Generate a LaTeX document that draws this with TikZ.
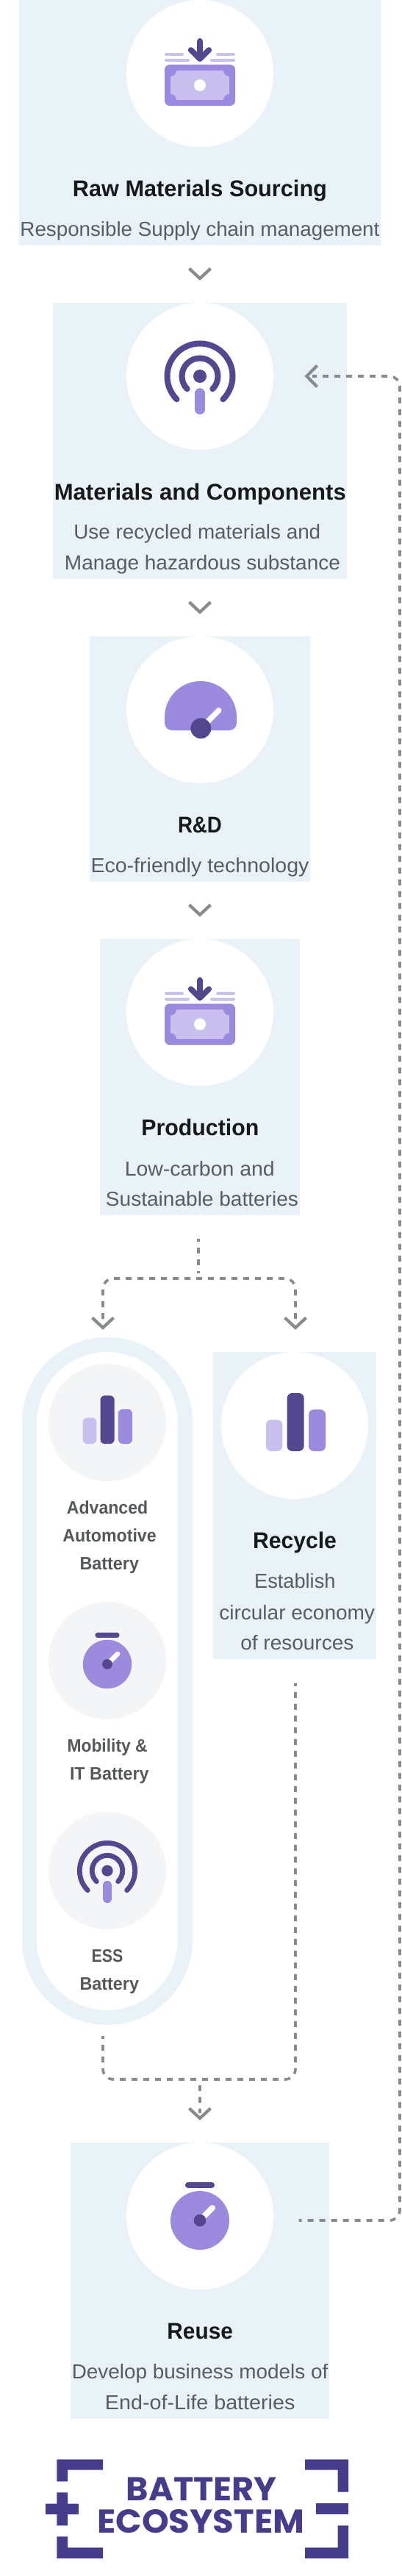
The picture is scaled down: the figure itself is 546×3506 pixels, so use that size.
\documentclass[tikz,border=0pt]{standalone}
\usepackage{fontspec}
\setmainfont{Liberation Sans}
\newfontfamily\logofont{Poppins}
\definecolor{panelc}{HTML}{E9F2F7}
\definecolor{discg}{HTML}{F3F5F6}
\definecolor{vdark}{HTML}{54468F}
\definecolor{vmid}{HTML}{9B8ADD}
\definecolor{vlight}{HTML}{C9C0EE}
\definecolor{linec}{HTML}{888B8D}
\definecolor{titlec}{HTML}{17191B}
\definecolor{descc}{HTML}{5A5D60}
\definecolor{capc}{HTML}{55585A}
\definecolor{logoc}{HTML}{463C8C}
\newcommand{\fw}[2]{\resizebox{#1pt}{\height}{#2}}
\tikzset{
  panel/.style={fill=panelc,inner sep=0pt,outer sep=0pt,rectangle},
  disc/.style={fill=white,circle,inner sep=0pt,outer sep=0pt,minimum size=200pt},
  gdisc/.style={fill=discg,circle,inner sep=0pt,outer sep=0pt,minimum size=160pt},
  ttl/.style={anchor=base,inner sep=0pt,text=titlec,font=\fontsize{31}{36}\selectfont\bfseries},
  dsc/.style={anchor=base,inner sep=0pt,text=descc,font=\fontsize{27.5}{32}\selectfont},
  cpt/.style={anchor=base,inner sep=0pt,text=capc,font=\fontsize{24.5}{28}\selectfont\bfseries},
  lgt/.style={anchor=base,inner sep=0pt,text=logoc,font=\fontsize{45}{50}\selectfont\logofont\bfseries},
  chev/.style={draw=linec,line width=4.2pt,miter limit=10},
  dashline/.style={draw=linec,line width=3.6pt,dash pattern=on 8pt off 8pt,rounded corners=14pt},
}
\newcommand{\chevdown}[2]{\draw[chev] (#1-14.5,-#2+13.5) -- (#1,-#2) -- (#1+14.5,-#2+13.5);}
\newcommand{\moneyicon}[2]{\begin{scope}[shift={(#1,-#2)}]
  \fill[vmid,rounded corners=7pt] (-48,12) rectangle (48,-44);
  \fill[vlight] (-40,4) rectangle (40,-36);
  \foreach \px/\py in {-40/4,40/4,-40/-36,40/-36} \fill[vmid] (\px,\py) circle[radius=8pt];
  \fill[white] (0,-16) circle[radius=8pt];
  \draw[vlight,line width=4pt,line cap=round] (-46,26) -- (-24,26) (-46,18) -- (-16,18) (24,26) -- (46,26) (16,18) -- (46,18);
  \draw[vdark,line width=7.6pt,line cap=round,line join=round] (0,44.2) -- (0,20) (-12.3,32) -- (0,19.8) -- (12.3,32);
\end{scope}}
\newcommand{\signalicon}[3]{\begin{scope}[shift={(#1,-#2)}]
  \draw[vdark,line width=#3*8pt,line cap=round] (225:{#3*44.5}) arc[start angle=225,end angle=-45,radius={#3*44.5pt}];
  \draw[vdark,line width=#3*8pt,line cap=round] (225:{#3*24.5}) arc[start angle=225,end angle=-45,radius={#3*24.5pt}];
  \fill[vdark] (0,0) circle[radius={#3*9pt}];
  \draw[vmid,line width=#3*14pt,line cap=round] (0,{-#3*23.3}) -- (0,{-#3*45});
\end{scope}}
\newcommand{\timericon}[3]{\begin{scope}[shift={(#1,-#2)}]
  \draw[vdark,line width=#3*8pt,line cap=round] ({-#3*16},{#3*48}) -- ({#3*16},{#3*48});
  \fill[vmid] (0,0) circle[radius={#3*40pt}];
  \draw[white,line width=#3*8pt,line cap=round] (0,0) -- ({#3*17},{#3*17});
  \fill[vdark] (0,0) circle[radius={#3*8.3pt}];
\end{scope}}
\newcommand{\barsicon}[3]{\begin{scope}[shift={(#1,-#2)}]
  \fill[vlight,rounded corners={#3*7pt}] ({-#3*40.2},0) rectangle ({-#3*17.6},{#3*42.7});
  \fill[vdark,rounded corners={#3*7pt}] ({-#3*11.4},0) rectangle ({#3*11.6},{#3*79});
  \fill[vmid,rounded corners={#3*7pt}] ({#3*18},0) rectangle ({#3*41},{#3*56.7});
\end{scope}}
\begin{document}
\begin{tikzpicture}[x=1pt,y=1pt]
\useasboundingbox (0,0) rectangle (546,-3506);
\fill[white] (0,0) rectangle (546,-3506);

% panels
\node[panel,minimum width=492pt,minimum height=334pt] (b1) at (272,-167) {};
\node[disc] (c1) at (272,-100) {};
\node[panel,minimum width=400pt,minimum height=376pt] (b2) at (272,-600) {};
\node[disc] (c2) at (272,-512) {};
\node[panel,minimum width=300pt,minimum height=334pt] (b3) at (272,-1033) {};
\node[disc] (c3) at (272,-966) {};
\node[panel,minimum width=272pt,minimum height=376pt] (b4) at (272,-1466) {};
\node[disc] (c4) at (272,-1378) {};
\node[panel,minimum width=222pt,minimum height=418pt] (b5) at (401,-2049) {};
\node[disc] (c5) at (401,-1940) {};
\node[panel,minimum width=352pt,minimum height=376pt] (b6) at (272,-3104) {};
\node[disc] (c6) at (272,-3016) {};
\node[draw=panelc,line width=20pt,inner sep=0pt,outer sep=0pt,minimum width=212pt,minimum height=916pt,rounded corners=106pt] (pill) at (146,-2288) {};
\node[gdisc] (g1) at (146,-1936) {};
\node[gdisc] (g2) at (146,-2260) {};
\node[gdisc] (g3) at (146,-2546) {};

% icons
\moneyicon{272}{100}
\signalicon{272}{512}{1}
\begin{scope}[shift={(272,-966)}]
  \fill[vmid] (-48,-10) arc[start angle=180,end angle=0,radius=49pt] -- (50,-18) arc[start angle=0,end angle=-90,radius=10pt] -- (-38,-28) arc[start angle=-90,end angle=-180,radius=10pt] -- cycle;
  \draw[white,line width=7.5pt,line cap=round] (1.3,-25.3) -- (25.7,-0.9);
  \fill[vdark] (1.3,-25.3) circle[radius=14pt];
\end{scope}
\moneyicon{272}{1378}
\barsicon{146}{1965}{0.83}
\timericon{146}{2265}{0.83}
\signalicon{146}{2546}{0.847}
\barsicon{402}{1975}{1}
\timericon{272}{3022}{1}

% texts
\node[ttl] (t1) at (272,-267.7) {\fw{346}{Raw Materials Sourcing}};
\node[dsc] (d1) at (272,-321.7) {\fw{489}{Responsible Supply chain management}};
\node[ttl] (t2) at (272.3,-680) {\fw{397}{Materials and Components}};
\node[dsc] (d2a) at (268.3,-733.7) {\fw{336}{Use recycled materials and}};
\node[dsc] (d2b) at (275.5,-775.7) {\fw{375}{Manage hazardous substance}};
\node[ttl] (t3) at (272,-1133) {\fw{60}{R\&D}};
\node[dsc] (d3) at (272,-1187.7) {\fw{297}{Eco-friendly technology}};
\node[ttl] (t4) at (272.3,-1545.7) {\fw{160}{Production}};
\node[dsc] (d4a) at (271.8,-1600) {\fw{204}{Low-carbon and}};
\node[dsc] (d4b) at (275,-1641.7) {\fw{262}{Sustainable batteries}};
\node[ttl] (t5) at (401,-2107.7) {\fw{114}{Recycle}};
\node[dsc] (d5a) at (401.3,-2161.7) {\fw{110.4}{Establish}};
\node[dsc] (d5b) at (404.2,-2204) {\fw{211.7}{circular economy}};
\node[dsc] (d5c) at (404.4,-2245.7) {\fw{154}{of resources}};
\node[ttl] (t6) at (272.2,-3183.3) {\fw{89.5}{Reuse}};
\node[dsc] (d6a) at (272.1,-3237.7) {\fw{348.6}{Develop business models of}};
\node[dsc] (d6b) at (272.2,-3279.3) {\fw{258.5}{End-of-Life batteries}};
\node[cpt] (p1a) at (146.1,-2060) {\fw{110.4}{Advanced}};
\node[cpt] (p1b) at (149,-2098) {\fw{127.4}{Automotive}};
\node[cpt] (p1c) at (148.8,-2136) {\fw{80.4}{Battery}};
\node[cpt] (p2a) at (146.1,-2384) {\fw{109}{Mobility \&}};
\node[cpt] (p2b) at (148.8,-2422) {\fw{107.6}{IT Battery}};
\node[cpt] (p3a) at (146.1,-2670) {\fw{42.8}{ESS}};
\node[cpt] (p3b) at (148.8,-2708) {\fw{80.4}{Battery}};

% plain chevrons between panels
\chevdown{272}{379}
\chevdown{272}{833}
\chevdown{272}{1245}

% connector points
\coordinate (prodout) at (270,-1686);
\coordinate (prodjoin) at (270,-1733);
\coordinate (leftin) at (140,-1795);
\coordinate (rightin) at (402,-1795);
\coordinate (leftbar) at (140,-1740);
\coordinate (rightbar) at (402,-1740);
\coordinate (midbar) at (271,-1740);
\coordinate (pillout) at (140,-2771);
\coordinate (recout) at (402,-2291);
\coordinate (lowl) at (140,-2830);
\coordinate (lowr) at (402,-2830);
\coordinate (reusetop) at (272,-2838);
\coordinate (reusein) at (272,-2876);
\coordinate (loopout) at (406.7,-3022);
\coordinate (loopc1) at (544,-3022);
\coordinate (loopc2) at (544,-512);
\coordinate (loopin) at (425,-512);

% dashed connectors
\draw[dashline,dash phase=4pt] (prodout) -- (prodjoin);
\draw[dashline] (leftin) -- (leftbar) -- (midbar);
\draw[dashline] (rightin) -- (rightbar) -- (midbar);
\draw[dashline,dash phase=4pt] (pillout) -- (lowl) -- (lowr) -- (recout);
\draw[dashline] (reusetop) -- (reusein);
\draw[dashline,dash phase=4pt] (loopout) -- (loopc1) -- (loopc2) -- (loopin);

% arrow chevrons
\chevdown{140}{1807}
\chevdown{402}{1807}
\chevdown{272}{2883}
\draw[chev] (431.5,-497.5) -- (417.3,-512) -- (431.5,-526.5);

% logo
\fill[logoc] (77.3,-3347.3) -- (140,-3347.3) -- (140,-3361.7) -- (92,-3361.7) -- (92,-3377.3) -- (77.3,-3377.3) -- cycle;
\fill[logoc] (77.3,-3392.3) -- (92,-3392.3) -- (92,-3407.7) -- (106.9,-3407.7) -- (106.9,-3422) -- (92,-3422) -- (92,-3437.3) -- (77.3,-3437.3) -- (77.3,-3422) -- (62,-3422) -- (62,-3407.7) -- (77.3,-3407.7) -- cycle;
\fill[logoc] (77.3,-3452.3) -- (92,-3452.3) -- (92,-3467.3) -- (140,-3467.3) -- (140,-3482) -- (77.3,-3482) -- cycle;
\fill[logoc] (415,-3347.3) -- (474.2,-3347.3) -- (474.2,-3391.7) -- (459.6,-3391.7) -- (459.6,-3361.7) -- (415,-3361.7) -- cycle;
\fill[logoc] (429.7,-3407.3) rectangle (474.2,-3421.7);
\fill[logoc] (459.6,-3437.3) -- (474.2,-3437.3) -- (474.2,-3482) -- (415,-3482) -- (415,-3467.3) -- (459.6,-3467.3) -- cycle;
\node[lgt] (l1) at (274.2,-3403.3) {\fw{205}{BATTERY}};
\node[lgt] (l2) at (273.3,-3447.3) {\fw{282}{ECOSYSTEM}};
\end{tikzpicture}
\end{document}
